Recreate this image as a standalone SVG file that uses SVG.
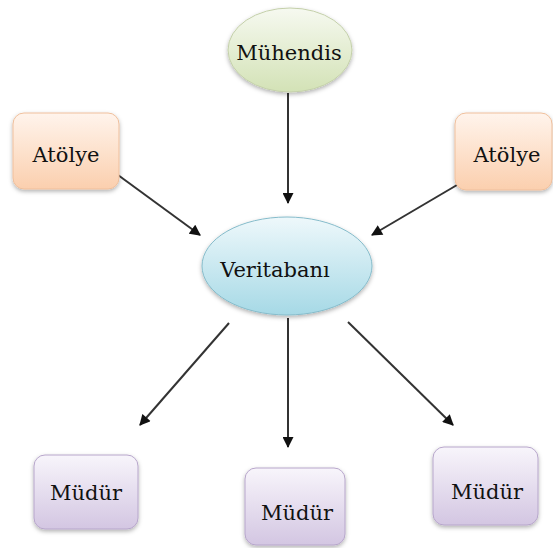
<svg xmlns="http://www.w3.org/2000/svg" width="553" height="548" viewBox="0 0 553 548">
<defs>
<linearGradient id="gGreen" x1="0" y1="0" x2="0" y2="1"><stop offset="0" stop-color="#f6f9f0"/><stop offset="1" stop-color="#d3e2b6"/></linearGradient>
<linearGradient id="gOrange" x1="0" y1="0" x2="0" y2="1"><stop offset="0" stop-color="#fff4ec"/><stop offset="1" stop-color="#fbcfae"/></linearGradient>
<linearGradient id="gBlue" x1="0" y1="0" x2="0" y2="1"><stop offset="0" stop-color="#eef8fb"/><stop offset="1" stop-color="#a6d9e6"/></linearGradient>
<linearGradient id="gPurple" x1="0" y1="0" x2="0" y2="1"><stop offset="0" stop-color="#f8f5fb"/><stop offset="1" stop-color="#d3c6e2"/></linearGradient>
<filter id="sh" x="-20%" y="-20%" width="140%" height="150%"><feDropShadow dx="0" dy="2" stdDeviation="2" flood-color="#000" flood-opacity="0.3"/></filter>
<marker id="ah" viewBox="0 0 10 10" refX="9" refY="5" markerWidth="12" markerHeight="11" markerUnits="userSpaceOnUse" orient="auto"><path d="M0,0 L10,5 L0,10 z" fill="#111"/></marker>
</defs>
<style>
text{font-family:"DejaVu Serif","Liberation Serif",serif;font-size:21px;fill:#111;text-anchor:middle}
.g{fill:url(#gGreen);stroke:#c4d0aa;stroke-width:1}
.o{fill:url(#gOrange);stroke:#efbf9c;stroke-width:1}
.b{fill:url(#gBlue);stroke:#86bccb;stroke-width:1}
.p{fill:url(#gPurple);stroke:#b7a6cb;stroke-width:1}
.c line{stroke:#333;stroke-width:2;marker-end:url(#ah)}
</style>
<rect width="553" height="548" fill="#fff"/>
<g class="c" id="connectors">
<line x1="288" y1="93" x2="288" y2="203"/>
<line x1="118" y1="175" x2="200" y2="235"/>
<line x1="457" y1="185" x2="372" y2="235"/>
<line x1="229" y1="323" x2="140" y2="425"/>
<line x1="288" y1="318" x2="288" y2="447"/>
<line x1="348" y1="322" x2="453" y2="425"/>
</g>
<g id="muhendis"><ellipse class="g" cx="290" cy="50" rx="62" ry="42" filter="url(#sh)"/><text x="289" y="60">Mühendis</text></g>
<g id="atolye1"><rect class="o" x="13" y="113" width="106" height="76" rx="11" filter="url(#sh)"/><text x="66" y="162">Atölye</text></g>
<g id="atolye2"><rect class="o" x="455" y="113" width="97" height="77" rx="11" filter="url(#sh)"/><text x="507" y="162">Atölye</text></g>
<g id="veritabani"><ellipse class="b" cx="287" cy="266" rx="85" ry="49" filter="url(#sh)"/><text x="275" y="277">Veritabanı</text></g>
<g id="mudur1"><rect class="p" x="34" y="455" width="104" height="74" rx="11" filter="url(#sh)"/><text x="86" y="500">Müdür</text></g>
<g id="mudur2"><rect class="p" x="245" y="468" width="100" height="77" rx="11" filter="url(#sh)"/><text x="297" y="520">Müdür</text></g>
<g id="mudur3"><rect class="p" x="433" y="447" width="105" height="78" rx="11" filter="url(#sh)"/><text x="487" y="499">Müdür</text></g>
</svg>
